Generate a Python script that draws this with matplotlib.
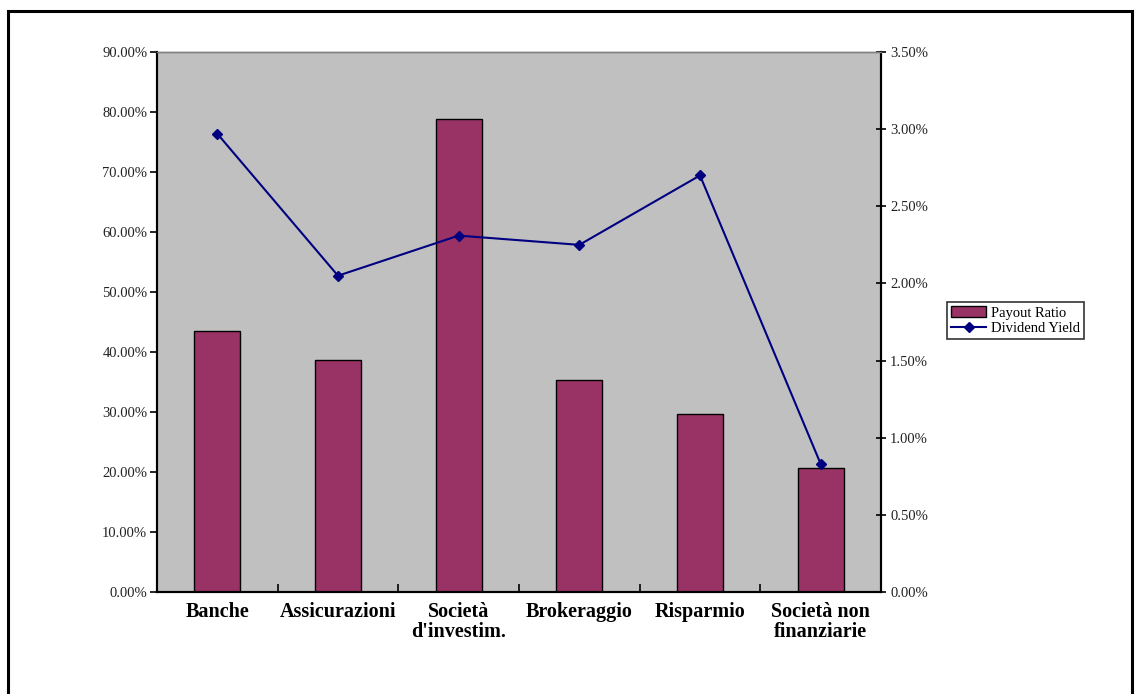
import matplotlib.pyplot as plt
from matplotlib.patches import Rectangle
from matplotlib.ticker import FuncFormatter, MultipleLocator
import numpy as np

categories = ["Banche", "Assicurazioni", "Società\nd'investim.", "Brokeraggio",
              "Risparmio", "Società non\nfinanziarie"]
payout_ratio = [43.5, 38.6, 78.8, 35.4, 29.7, 20.7]
dividend_yield = [2.97, 2.05, 2.31, 2.25, 2.70, 0.83]

plt.rcParams['font.family'] = ['Liberation Serif', 'DejaVu Serif']

fig = plt.figure(figsize=(11.4, 6.94), dpi=100)
# outer frame of the chart object
fig.patches.append(Rectangle((0.007, -0.05), 0.986, 1.034, transform=fig.transFigure,
                             fill=False, edgecolor='black', linewidth=2.2))

ax = fig.add_axes([157 / 1140, 1 - 592 / 694, (881 - 157) / 1140, (592 - 52) / 694])
ax.set_facecolor('#C0C0C0')
x = np.arange(len(categories))
ax.bar(x, payout_ratio, width=0.38, color='#993366', edgecolor='black', linewidth=1,
       label='Payout Ratio', zorder=2)
ax.set_xlim(-0.5, len(categories) - 0.5)
ax.set_ylim(0, 90)
ax.yaxis.set_major_locator(MultipleLocator(10))
ax.yaxis.set_major_formatter(FuncFormatter(lambda v, p: f"{v:.2f}%"))
ax.set_xticks(x)
ax.set_xticklabels(categories, fontsize=14.5, fontweight='bold', linespacing=1.0)
ax.set_xticks(np.arange(0.5, len(categories) - 1, 1), minor=True)
ax.tick_params(axis='x', which='major', length=0, pad=7)
ax.tick_params(axis='x', which='minor', direction='in', length=6, width=1.2)
ax.tick_params(axis='y', direction='out', length=5, width=1.2, labelsize=10.5,
               labelcolor='#222222', pad=2)

ax2 = ax.twinx()
ax2.plot(x, dividend_yield, color='#000080', linewidth=1.5, marker='D', markersize=5.5,
         label='Dividend Yield', zorder=3)
ax2.set_ylim(0, 3.5)
ax2.yaxis.set_major_locator(MultipleLocator(0.5))
ax2.yaxis.set_major_formatter(FuncFormatter(lambda v, p: f"{v:.2f}%"))
ax2.tick_params(axis='y', direction='inout', length=7, width=1.2, labelsize=10.5,
                labelcolor='#222222', pad=3)

for a in (ax, ax2):
    a.spines['top'].set_color('#808080')
    a.spines['top'].set_linewidth(1)
    for s in ('left', 'right', 'bottom'):
        a.spines[s].set_linewidth(1.5)
        a.spines[s].set_color('black')

h1, l1 = ax.get_legend_handles_labels()
h2, l2 = ax2.get_legend_handles_labels()
leg = fig.legend(h1 + h2, l1 + l2, loc='upper left', bbox_to_anchor=(947 / 1140, 1 - 302 / 694),
                 fontsize=10.5, frameon=True, fancybox=False, edgecolor='black',
                 borderpad=0.3, handlelength=2.4, labelspacing=0.15, handletextpad=0.3,
                 borderaxespad=0)
leg.get_frame().set_linewidth(1.2)

fig.savefig('out.png', dpi=100)
